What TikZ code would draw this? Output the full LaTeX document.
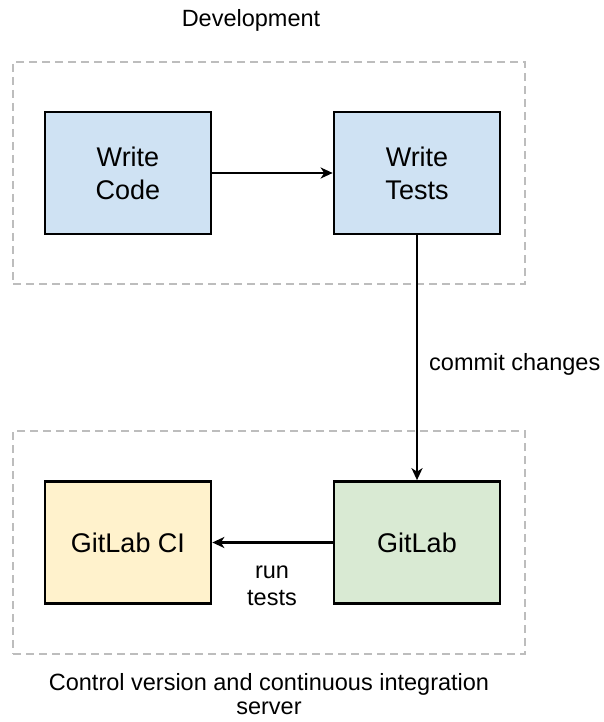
\documentclass[tikz,border=0pt]{standalone}
\usepackage{fontspec}
\setmainfont{Liberation Sans}
\usetikzlibrary{arrows.meta}
\definecolor{devblue}{HTML}{CFE2F3}
\definecolor{ciyellow}{HTML}{FFF2CC}
\definecolor{glgreen}{HTML}{D9EAD3}
\definecolor{dashgray}{HTML}{BDBDBD}
\tikzset{
  box/.style={draw=black, line width=2.7pt, minimum width=166pt, minimum height=122pt, inner sep=0pt, align=center, font=\fontsize{27}{33}\selectfont},
  group/.style={draw=dashgray, line width=2.4pt, dash pattern=on 8pt off 5pt, inner sep=0pt},
  flow/.style={line width=2.4pt, -{Stealth[length=12pt, width=11pt, inset=3.5pt]}},
  lbl/.style={font=\fontsize{23.5}{27}\selectfont, inner sep=0pt, align=center}
}
\begin{document}
\begin{tikzpicture}[x=1pt, y=-1pt]
\useasboundingbox (0,0) rectangle (603,722);
% groups
\node[group, minimum width=512pt, minimum height=222pt] (dev) at (269,173) {};
\node[group, minimum width=512pt, minimum height=223pt] (ci) at (269,542.5) {};
% boxes
\node[box, fill=devblue] (wc) at (128,173) {Write\\Code};
\node[box, fill=devblue] (wt) at (417,173) {Write\\Tests};
\node[box, fill=ciyellow] (glci) at (128,542.5) {GitLab CI};
\node[box, fill=glgreen] (gl) at (417,542.5) {GitLab};
% connectors
\draw[flow] (wc) -- (wt);
\draw[flow] (wt) -- (gl);
\draw[flow] (gl) -- (glci);
% labels
\node[lbl, anchor=base] (devlbl) at (251,27) {Development};
\node[lbl, anchor=base west] (commit) at (429,370) {commit changes};
\node[lbl, font=\fontsize{23.5}{27}\selectfont] (run) at (272,586) {run\\tests};
\node[lbl, font=\fontsize{23.5}{23.3}\selectfont] (cilbl) at (269,694) {Control version and continuous integration\\server};
\end{tikzpicture}
\end{document}
